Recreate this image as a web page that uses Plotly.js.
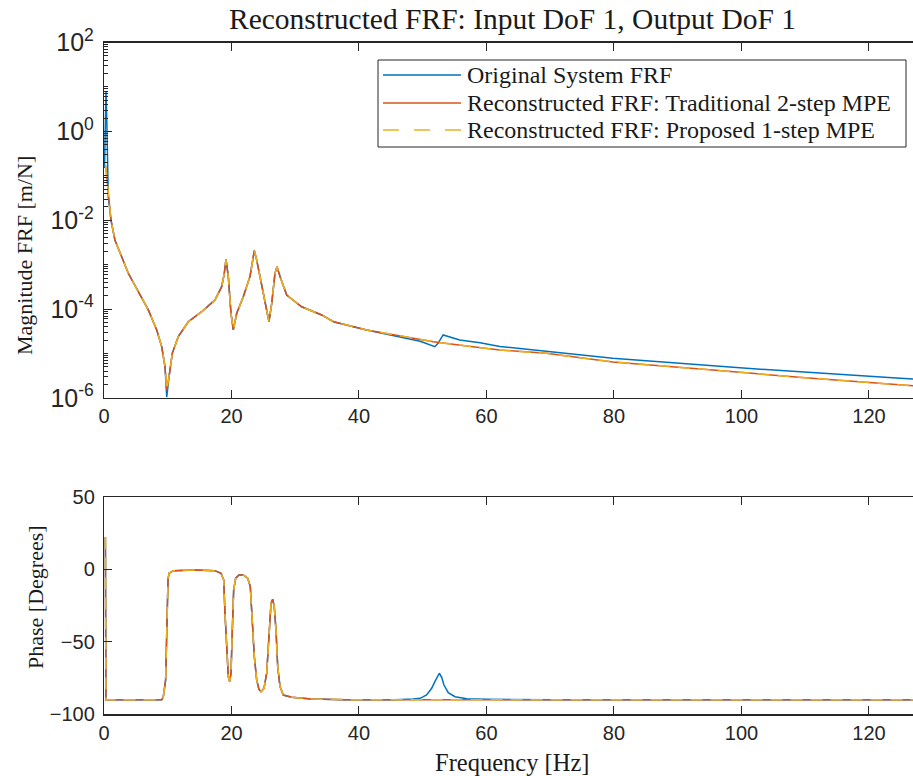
<!DOCTYPE html>
<html>
<head>
<meta charset="utf-8">
<script src="https://cdn.plot.ly/plotly-3.0.1.min.js"></script>
<style>
html,body{margin:0;padding:0;overflow:hidden;background:#fff;}
#chart{width:921px;height:776px;}
</style>
</head>
<body>
<div id="chart"></div>
<script>
// ---- Data ----
// Magnitude, original system (blue)
const freqMagOrig = [0.08,0.2,0.31,0.44,0.55,0.67,1.1,1.71,2.78,3.81,5.38,6.95,8.27,9.05,9.57,9.84,10.2,10.71,11.65,13.22,15.33,17.41,18.46,18.87,19.14,19.5,19.92,20.28,20.82,21.85,22.9,23.33,23.58,23.95,24.74,25.52,25.88,26.31,26.82,27.14,27.61,28.66,31.01,34.15,36.0,41.2,46.4,49.6,51.9,52.4,53.2,54.3,55.8,59.0,62.1,79.8,100.8,124.9,128.2];
const magOrig = [0.15,1.8,8,1.8,0.175,0.034,0.0101,3.6e-3,1.51e-3,6.4e-4,2.47e-4,9.6e-5,3.4e-5,1.43e-5,5.1e-6,1.05e-6,3.0e-6,1.01e-5,2.4e-5,5.2e-5,8.75e-5,1.61e-4,3.2e-4,6.4e-4,1.32e-3,5.4e-4,8.05e-5,3.4e-5,8.05e-5,1.9e-4,5.4e-4,1.28e-3,2.07e-3,1.28e-3,3.2e-4,9.6e-5,5.2e-5,1.35e-4,6.4e-4,9.0e-4,5.4e-4,2.08e-4,1.13e-4,7.4e-5,5.2e-5,3.4e-5,2.38e-5,1.9e-5,1.43e-5,1.7e-5,2.62e-5,2.36e-5,2.02e-5,1.76e-5,1.45e-5,7.8e-6,4.67e-6,2.78e-6,2.6e-6];

// Magnitude, reconstructed (traditional 2-step and proposed 1-step overlap)
const freqMagRecon = [0.24,0.67,1.1,1.71,2.78,3.81,5.38,6.95,8.27,9.05,9.57,9.84,10.2,10.71,11.65,13.22,15.33,17.41,18.46,18.87,19.14,19.5,19.92,20.28,20.82,21.85,22.9,23.33,23.58,23.95,24.74,25.52,25.88,26.31,26.82,27.14,27.61,28.66,31.01,34.15,36.0,41.2,46.4,51.65,56.9,62.1,69.4,79.8,95.5,110,128.2];
const magTrad = [0.175,0.034,0.0101,3.6e-3,1.51e-3,6.4e-4,2.47e-4,9.6e-5,3.4e-5,1.43e-5,5.1e-6,1.5e-6,3.0e-6,1.01e-5,2.4e-5,5.2e-5,8.75e-5,1.61e-4,3.2e-4,6.4e-4,1.32e-3,5.4e-4,8.05e-5,3.4e-5,8.05e-5,1.9e-4,5.4e-4,1.28e-3,2.07e-3,1.28e-3,3.2e-4,9.6e-5,5.2e-5,1.35e-4,6.4e-4,9.0e-4,5.4e-4,2.08e-4,1.13e-4,7.4e-5,5.2e-5,3.4e-5,2.49e-5,1.85e-5,1.48e-5,1.2e-5,1.01e-5,6.5e-6,4.27e-6,2.85e-6,1.82e-6];
const magProp = [0.175,0.034,0.0101,3.6e-3,1.51e-3,6.4e-4,2.47e-4,9.6e-5,3.4e-5,1.43e-5,5.1e-6,1.5e-6,3.0e-6,1.01e-5,2.4e-5,5.2e-5,8.75e-5,1.61e-4,3.2e-4,6.4e-4,1.32e-3,5.4e-4,8.05e-5,3.4e-5,8.05e-5,1.9e-4,5.4e-4,1.28e-3,2.07e-3,1.28e-3,3.2e-4,9.6e-5,5.2e-5,1.35e-4,6.4e-4,9.0e-4,5.4e-4,2.08e-4,1.13e-4,7.4e-5,5.2e-5,3.4e-5,2.49e-5,1.85e-5,1.48e-5,1.2e-5,1.01e-5,6.5e-6,4.27e-6,2.85e-6,1.82e-6];

// Phase, original system (blue)
const freqPhaseOrig = [0.22,0.3,9.05,9.3,9.67,9.88,10.04,10.2,10.87,14.27,17.4,18.35,18.78,18.98,19.25,19.5,19.72,19.92,20.13,20.34,20.66,21.18,21.85,22.54,22.95,23.26,23.58,23.95,24.31,24.63,25.1,25.52,25.88,26.2,26.46,26.71,26.98,27.25,27.61,28.13,29.44,32.58,37.8,45.6,48.5,49.6,50.6,51.4,51.9,52.3,52.6,52.97,53.33,54.0,55.06,56.9,60,70,128.2];
const phaseOrig = [22,-90,-90,-87.9,-76.3,-41.9,-7.4,-2.8,-1.0,-0.5,-1.0,-2.8,-7.4,-30.3,-57.9,-74,-77.5,-71.7,-41.9,-14.3,-6.2,-3.9,-3.9,-6.2,-12,-35,-60.3,-76.3,-82.8,-84.4,-82.1,-71.7,-41.9,-23.4,-20.7,-25.8,-41.9,-67.2,-80.9,-86.7,-88.3,-89.4,-89.9,-90,-89.5,-89,-86.7,-82.1,-77.5,-73.6,-71.7,-74.5,-79.8,-85.1,-87.9,-89.2,-89.6,-90,-90];

// Phase, reconstructed
const freqPhaseRecon = [0.22,0.3,9.05,9.3,9.67,9.88,10.04,10.2,10.87,14.27,17.4,18.35,18.78,18.98,19.25,19.5,19.72,19.92,20.13,20.34,20.66,21.18,21.85,22.54,22.95,23.26,23.58,23.95,24.31,24.63,25.1,25.52,25.88,26.2,26.46,26.71,26.98,27.25,27.61,28.13,29.44,32.58,37.8,45.6,128.2];
const phaseTrad = [22,-90,-90,-87.9,-76.3,-41.9,-7.4,-2.8,-1.0,-0.5,-1.0,-2.8,-7.4,-30.3,-57.9,-74,-77.5,-71.7,-41.9,-14.3,-6.2,-3.9,-3.9,-6.2,-12,-35,-60.3,-76.3,-82.8,-84.4,-82.1,-71.7,-41.9,-23.4,-20.7,-25.8,-41.9,-67.2,-80.9,-86.7,-88.3,-89.4,-89.9,-90,-90];
const phaseProp = [22,-90,-90,-87.9,-76.3,-41.9,-7.4,-2.8,-1.0,-0.5,-1.0,-2.8,-7.4,-30.3,-57.9,-74,-77.5,-71.7,-41.9,-14.3,-6.2,-3.9,-3.9,-6.2,-12,-35,-60.3,-76.3,-82.8,-84.4,-82.1,-71.7,-41.9,-23.4,-20.7,-25.8,-41.9,-67.2,-80.9,-86.7,-88.3,-89.4,-89.9,-90,-90];

const seriesNames = ['Original System FRF','Reconstructed FRF: Traditional 2-step MPE','Reconstructed FRF: Proposed 1-step MPE'];
const xTickVals = [0,20,40,60,80,100,120];
const magTickVals = [1e-6,1e-4,1e-2,1,1e2];
const magTickText = ['10<sup>-6</sup>','10<sup>-4</sup>','10<sup>-2</sup>','10<sup>0</sup>','10<sup>2</sup>'];
const phaseTickVals = [-100,-50,0,50];

// minor log ticks (1..9 x 10^n, excluding labelled decades)
const minorVals = [];
for (let e = -6; e < 2; e++) {
  for (let k = 1; k <= 9; k++) {
    if (k === 1 && e % 2 === 0) continue;
    minorVals.push(k * Math.pow(10, e));
  }
}

const C_BLUE = '#0072BD', C_RED = '#D95319', C_YEL = '#EDB120';
const seriesColors = [C_BLUE, C_RED, C_YEL];
const seriesDash = ['solid', 'solid', '16px,15px'];
const LW = 1.5;

const traces = [
  {x: freqMagOrig, y: magOrig, xaxis:'x', yaxis:'y', mode:'lines', name: seriesNames[0], line:{color:C_BLUE,width:LW}},
  {x: freqMagRecon, y: magTrad, xaxis:'x', yaxis:'y', mode:'lines', name: seriesNames[1], line:{color:C_RED,width:LW}},
  {x: freqMagRecon, y: magProp, xaxis:'x', yaxis:'y', mode:'lines', name: seriesNames[2], line:{color:C_YEL,width:LW,dash:'12px,8px'}},
  {x: freqPhaseOrig, y: phaseOrig, xaxis:'x2', yaxis:'y2', mode:'lines', name: seriesNames[0], line:{color:C_BLUE,width:LW}},
  {x: freqPhaseRecon, y: phaseTrad, xaxis:'x2', yaxis:'y2', mode:'lines', name: seriesNames[1], line:{color:C_RED,width:LW}},
  {x: freqPhaseRecon, y: phaseProp, xaxis:'x2', yaxis:'y2', mode:'lines', name: seriesNames[2], line:{color:C_YEL,width:LW,dash:'12px,8px'}}
];

const AX = '#262626';
const TXT = '#1a1a1a';
const tickFont = {family:'Liberation Sans, Arial, sans-serif', size:20, color:AX};
const serif = 'Liberation Serif, Times New Roman, serif';
const W = 921, H = 776, L = 104;
const px2x = p => (p - L) / (W - L);
const px2y = p => 1 - p / H;

const xCommon = {
  range:[0,128.16], tickvals:xTickVals, ticks:'inside', ticklen:8, tickwidth:1, tickcolor:AX,
  showline:true, linecolor:AX, linewidth:1.2, mirror:'ticks', showgrid:false, zeroline:false,
  tickfont:tickFont, automargin:false, fixedrange:true
};

// Legend drawn as a MATLAB-style box (long line samples)
const legBox = {x0:378, x1:906, y0:60, y1:147};
const legRows = [75, 103, 130];
const legendShapes = [
  {type:'rect', xref:'paper', yref:'paper', x0:px2x(legBox.x0), x1:px2x(legBox.x1), y0:px2y(legBox.y1), y1:px2y(legBox.y0),
   line:{color:AX, width:1}, fillcolor:'#fff', layer:'above'}
];
const legendAnns = [];
seriesNames.forEach((nm, i) => {
  legendShapes.push({type:'line', xref:'paper', yref:'paper', x0:px2x(383), x1:px2x(461), y0:px2y(legRows[i]), y1:px2y(legRows[i]),
    line:{color:seriesColors[i], width:LW, dash:seriesDash[i]}, layer:'above'});
  legendAnns.push({text:nm, xref:'paper', yref:'paper', x:px2x(465), y:px2y(legRows[i]), xanchor:'left', yanchor:'middle',
    showarrow:false, font:{family:serif, size:24, color:TXT}});
});

const layout = {
  width:W, height:H,
  margin:{l:L, r:0, t:0, b:0},
  paper_bgcolor:'#fff', plot_bgcolor:'#fff',
  showlegend:false,
  title:{text:'Reconstructed FRF: Input DoF 1, Output DoF 1', font:{family:serif, size:29.5, color:TXT},
         x:0.5, xref:'paper', xanchor:'center', y:1-19/776, yref:'container', yanchor:'middle'},
  xaxis: Object.assign({}, xCommon, {domain:[0,1], anchor:'y'}),
  yaxis: {
    type:'log', range:[-6,2], domain:[1-398/776, 1-42.5/776], anchor:'x',
    tickmode:'array', tickvals:magTickVals, ticktext:magTickText,
    ticks:'inside', ticklen:8, tickwidth:1, tickcolor:AX,
    minor:{tickmode:'array', tickvals:minorVals, ticks:'inside', ticklen:4, tickwidth:1, tickcolor:AX, showgrid:false},
    showline:true, linecolor:AX, linewidth:1.2, mirror:'ticks', showgrid:false, zeroline:false,
    tickfont:{family:'Liberation Sans, Arial, sans-serif', size:25, color:AX}, ticklabelstandoff:4, automargin:false, fixedrange:true
  },
  xaxis2: Object.assign({}, xCommon, {domain:[0,1], anchor:'y2'}),
  yaxis2: {
    range:[-100,50], domain:[1-714.3/776, 1-496.7/776], anchor:'x2',
    tickvals:phaseTickVals, ticks:'inside', ticklen:8, tickwidth:1, tickcolor:AX,
    showline:true, linecolor:AX, linewidth:1.2, mirror:'ticks', showgrid:false, zeroline:false,
    tickfont:tickFont, ticklabelstandoff:4, automargin:false, fixedrange:true
  },
  shapes: legendShapes,
  annotations:[
    {text:'Magnitude FRF [m/N]', xref:'paper', yref:'paper', x:px2x(25), y:px2y(256),
     xanchor:'center', yanchor:'middle', textangle:-90, showarrow:false, font:{family:serif, size:22, color:TXT}},
    {text:'Phase [Degrees]', xref:'paper', yref:'paper', x:px2x(35), y:px2y(597),
     xanchor:'center', yanchor:'middle', textangle:-90, showarrow:false, font:{family:serif, size:22, color:TXT}},
    {text:'Frequency [Hz]', xref:'paper', yref:'paper', x:px2x(512), y:px2y(762),
     xanchor:'center', yanchor:'middle', showarrow:false, font:{family:serif, size:24.5, color:TXT}}
  ].concat(legendAnns)
};

Plotly.newPlot('chart', traces, layout, {displayModeBar:false, staticPlot:true});
</script>
</body>
</html>
